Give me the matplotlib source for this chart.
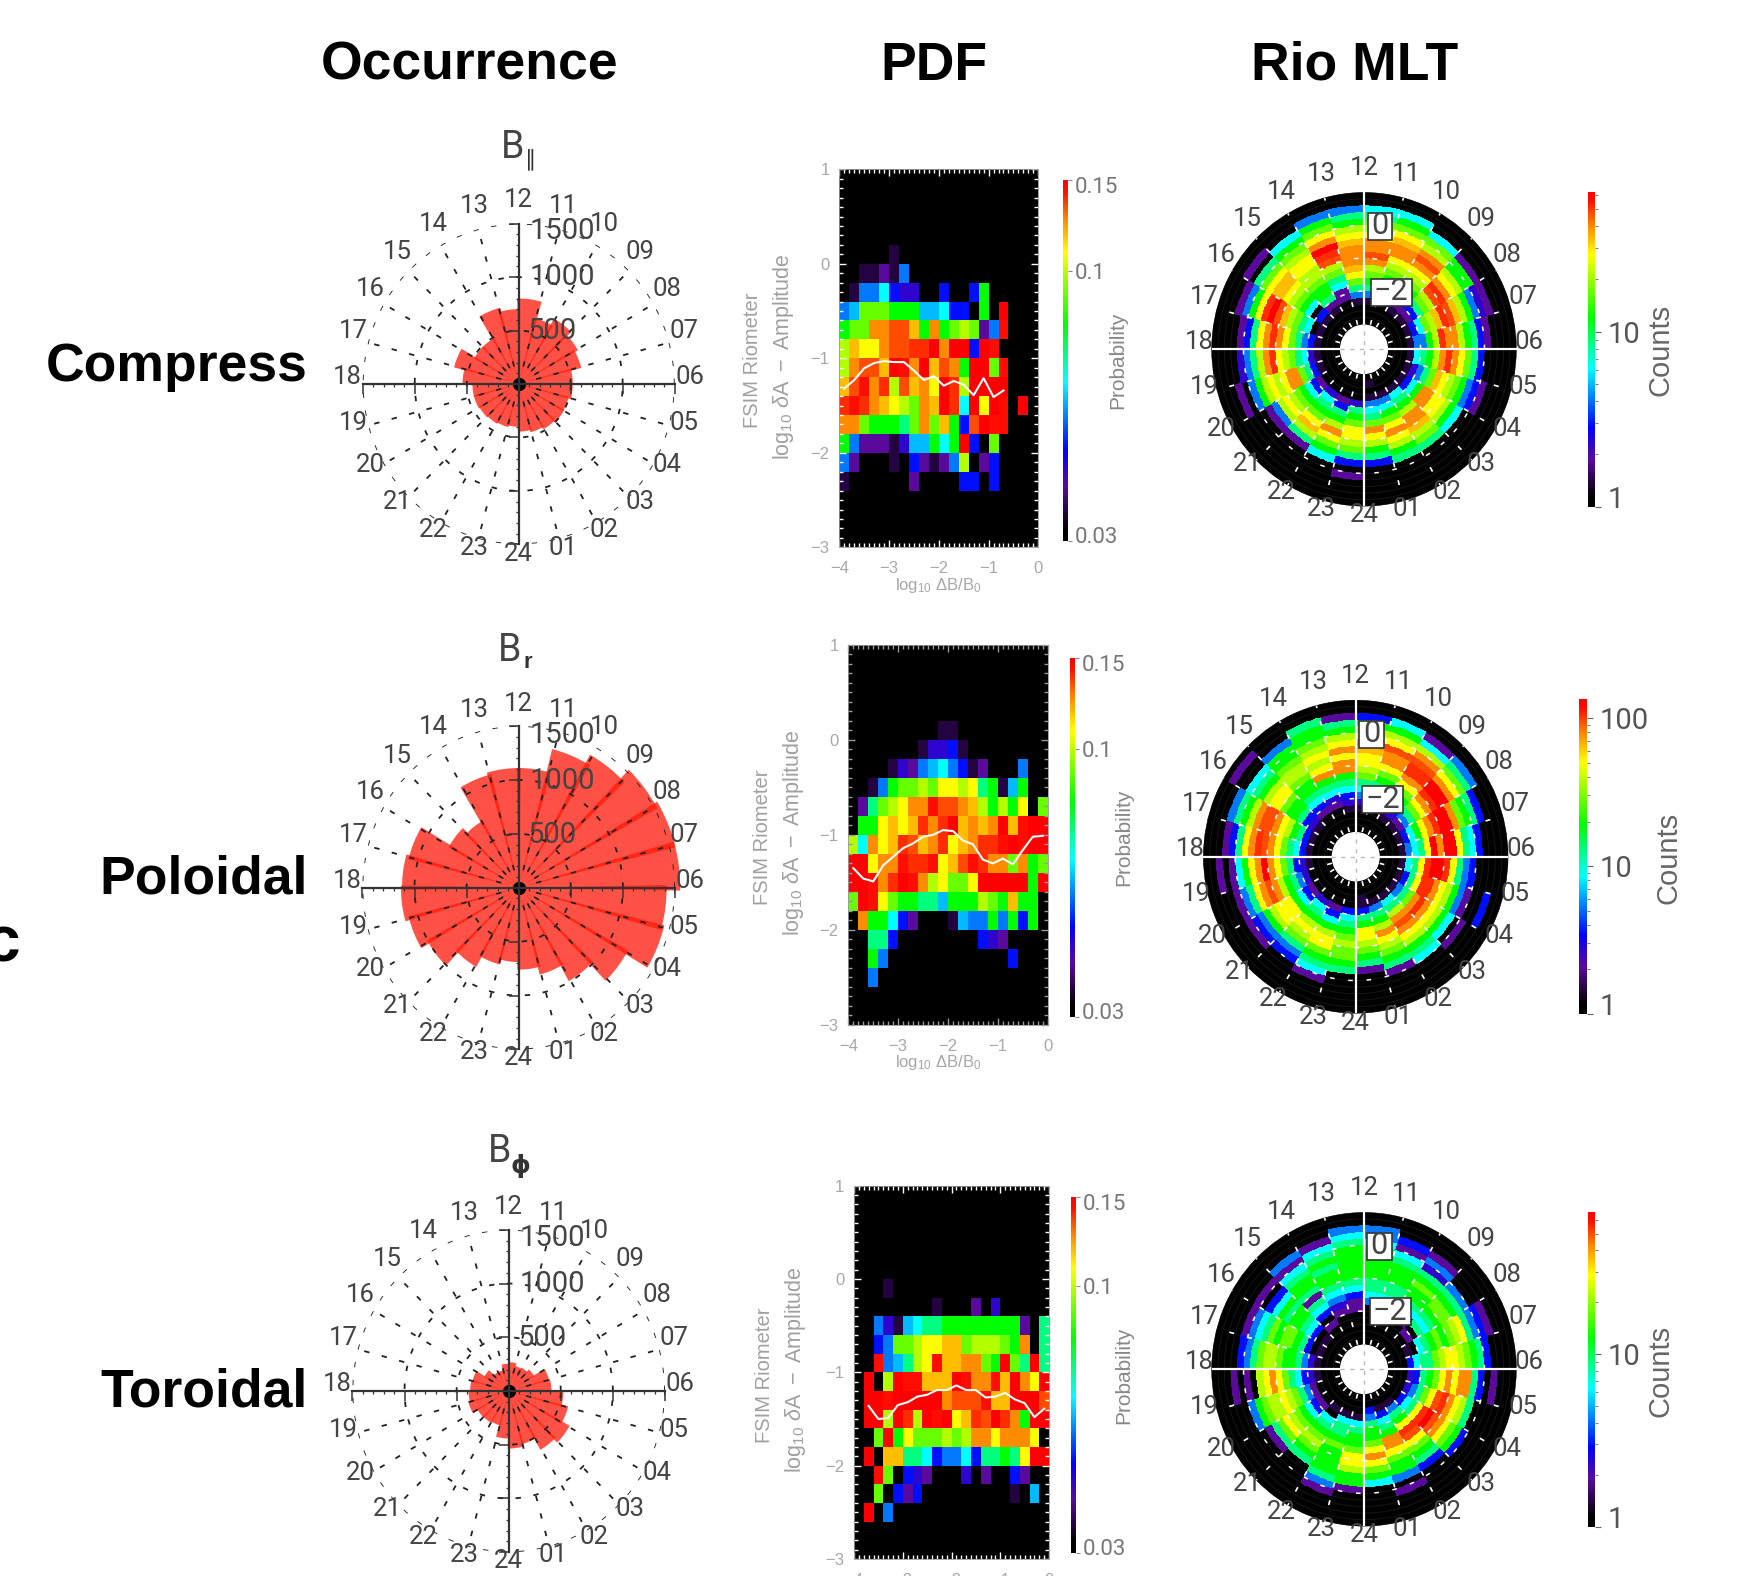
import numpy as np
import matplotlib
matplotlib.use("Agg")
import matplotlib.pyplot as plt
from matplotlib.colors import LinearSegmentedColormap, LogNorm
from matplotlib.patches import Rectangle
from matplotlib.ticker import MultipleLocator, NullFormatter
from matplotlib.transforms import ScaledTranslation

plt.rcParams['font.family'] = ['Liberation Sans', 'DejaVu Sans']
plt.rcParams['mathtext.fontset'] = 'custom'
plt.rcParams['mathtext.rm'] = 'Liberation Sans'
plt.rcParams['mathtext.it'] = 'Liberation Sans:italic'
plt.rcParams['mathtext.bf'] = 'Liberation Sans:bold'

W, H = 1748, 1576
THIN = dict(family=['Roboto', 'Liberation Sans'], fontweight='normal')
INK = '#444444'

HOURS = ['06', '07', '08', '09', '10', '11', '12', '13', '14', '15', '16', '17',
         '18', '19', '20', '21', '22', '23', '24', '01', '02', '03', '04', '05']

# Occurrence per MLT hour sector, starting at 06-07 and running through 12, 18, 24
OCC_COMPRESS = [520, 620, 650, 700, 635, 800, 700, 735, 490, 490, 640, 540,
                445, 445, 435, 425, 415, 400, 445, 465, 485, 500, 495, 520]
OCC_POLOIDAL = [1550, 1550, 1520, 1410, 1325, 1110, 1110, 1085, 710, 770, 1090, 1120,
                1130, 1090, 1005, 840, 735, 690, 760, 830, 990, 1200, 1440, 1420]
OCC_TOROIDAL = [410, 400, 280, 250, 240, 268, 254, 200, 205, 270, 360, 370,
                385, 400, 345, 340, 330, 442, 535, 510, 625, 668, 588, 524]

# Cell readings: each letter is a position on the colour bar (0 = bottom, 1 = top)
LEVEL = {'d': .08, 'p': .15, 'i': .20, 'b': .26, 'a': .34, 's': .39, 'c': .44, 't': .52,
         'g': .60, 'l': .68, 'm': .74, 'y': .80, 'o': .85, 'O': .89, 'f': .93, 'F': .95,
         'r': .975, 'R': 1.0}

BLANK = '.' * 20

# PDF cells, top row (log10 dA 0.8..1) to bottom row, left column (log10 dB/B0 -4) to right
PDF_COMPRESS = [BLANK] * 4 + [
    ".....d..............", "..ddpda.............", ".daacbii..b..bg.....",
    "aslllgggsscbb.g.R...", "gllOOffogOglmlpar...", "moyyOffFFRORRbRr....",
    "mOffoRrORofOgRRlr...", "ofrOFmfoOyRFmRRRR...", "FrFOoymlOoRFcRyRr.R.",
    "OOlgggtlOlogbfRrr...", "gapppdissgcgRb.l....", "ap...d.bpdpam.pb....",
    "d......p....bb.b....",
] + [BLANK] * 3
PDF_POLOIDAL = [BLANK] * 4 + [
    ".........dd.........", ".......diibd........", "....dipascabdp...a..",
    "..dagllmlyymytgdsg..", ".ptlmyOOrffOomgmgy.l", ".ggyoyoFOFRoOoORorRR",
    "mcOyoFfoOFyoOFFrRrRR", "RRyOOrFFryofrFOOlOgl", "RRrOFRrOmyllyRRRRRgR",
    "lRrylggttsgggmlgogg.", ".Oggcbp...dsaagagbg.", "..ttb........bip....",
    "..ga............b...", "..a.................",
] + [BLANK] * 2
PDF_TOROIDAL = [BLANK] * 5 + [
    "...d................", "........d...p.i.....", "..aidscttggggggggp.t",
    "..ballmyyoolmmmlgO.t", "..rastmyrooOOlgRltRt", ".R.mRrroooRrOOroROyR",
    ".RRrRRRRROfffrooRRRf", ".RRmRFmRrRyoFfRFOgRR", "..lRgylllmlmOOyOOOy.",
    ".R.oottcbaacbttgtyRR", "..rl.bip...i.p..bp..", "..l.bpb.........d.s.",
    ".R.a................",
] + [BLANK] * 2

# Median lines
MED_X_COMPRESS = [-3.9, -3.7, -3.5, -3.3, -3.1, -2.9, -2.7, -2.5, -2.3, -2.1, -1.9, -1.7, -1.5, -1.3, -1.1, -0.9, -0.7]
MED_Y_COMPRESS = [-1.32, -1.23, -1.105, -1.05, -1.03, -1.04, -1.04, -1.13, -1.23, -1.19, -1.29, -1.24, -1.28, -1.39, -1.21, -1.41, -1.34]
MED_X_POLOIDAL = [-3.9, -3.7, -3.5, -3.3, -3.1, -2.9, -2.7, -2.5, -2.3, -2.1, -1.9, -1.7, -1.5, -1.3, -1.1, -0.9, -0.7, -0.5, -0.3, -0.1]
MED_Y_POLOIDAL = [-1.35, -1.46, -1.49, -1.32, -1.23, -1.14, -1.09, -1.02, -1.0, -0.95, -0.96, -1.06, -1.10, -1.26, -1.30, -1.25, -1.31, -1.16, -1.02, -1.01]
MED_X_TOROIDAL = [-3.7, -3.5, -3.3, -3.1, -2.9, -2.7, -2.5, -2.3, -2.1, -1.9, -1.7, -1.5, -1.3, -1.1, -0.9, -0.7, -0.5, -0.3, -0.1]
MED_Y_TOROIDAL = [-1.36, -1.50, -1.49, -1.35, -1.32, -1.26, -1.24, -1.19, -1.19, -1.14, -1.19, -1.19, -1.27, -1.26, -1.22, -1.29, -1.33, -1.48, -1.39]

# Rio MLT cells: one string per hour sector (06-07 first), inner ring (-3) to outer ring (+1)
RIO_COMPRESS = [
    "...daagmFOOmgtbp....", "...dbclmoFfomgaip...", "...dpbtlmfFOymggp...", "...dpbcglmyOfOmlc...",
    "....iacglmyOOoylgc..", "...datglmOfOOymltc..", "...datlyoOOOoymgta..", "....ppctlmfFROylga..",
    "...dptgglmmyymlgc...", "...db.cglmyooylt.p..", "...d.ctlmofRFygap...", "...dbatlyOFOytbp....",
    "...dictlmyFOmtai....", "...dbtlOOymymga.p...", "....pbcglmymap......", "....ictglyomtp......",
    "....pbtgmOylgc......", "....itglyymltb.p....", ".d.dactlOymgtb......", "...dacglyOymgt......",
    "...dctgmOOomlt......", "...dbcgOOyymgc......", "...diatloymlgabp....", "...dctgmOFOyltb.....",
]
RIO_POLOIDAL = [
    "...dactyRORRytcb....", "...dbcgyOFRROlgtb...", "...dpatlyOFRROylta..", "...dibcglyOFFfOmcp..",
    "....ibatglyOOfymgc..", "...diactlmyyoOymgb..", "...dibctgOOyOymgtp..", "....pictgOymymlggt..",
    "....pbctgglmmlgga...", "...dibtgglyymgtc..p.", "...dbtgmyOffOmgta...", "...dbctlyOfFOytbp...",
    "...dibtlyOROygcp.p..", "....iatgmOfOytap....", "....pbcgyyymgabp....", "....ictgmymltab.....",
    "....pbcgmyylgtcp....", "....bctglmllgt......", "..ddbtgyymlgtp......", "...datgmOymlgtp.....",
    "...dctmOfOymgtc.....", "...datlOFOymgc.p....", "...dbtyFFOymgap..b..", "...dctyFRRFytab.....",
]
RIO_TOROIDAL = [
    "...bcttlmyymlgtb....", "...d.ctglglmytabp...", "....p.tctgllgta.....", ".....pbctgglgtiap...",
    ".....pbcttgggtcpb...", "......acttggggtcaa..", ".....ppbctgggggtca..", ".....piactggtgtcp...",
    "....p.bctptggtcpa...", "...d.bctggtgcb.p....", "...d.btgllgltcap....", "...diatgglmmltab....",
    "...dibctlyOym.p.p...", "....patlmymmlga.....", "....pbcglmyltp......", "...d.ctglmlgt.......",
    "...dcttglggggtap....", "...dctgglyymggp.....", "..batgglyOylgc......", "..dbctgOOylgga.p....",
    "..datgyFfylgtb......", "...bctyFRfOylgb.....", "...iatlyfFOymt......", "...ibtglyOyOOtb.p...",
]

RIO_VMAX = [63, 134, 67]

COLORS = LinearSegmentedColormap.from_list('rainbow_black', [
    (0.00, '#000000'), (0.03, '#000000'), (0.15, '#5a0a9e'), (0.25, '#0000ff'),
    (0.44, '#00ffff'), (0.60, '#00ff00'), (0.80, '#ffff00'), (0.89, '#ff8c00'),
    (0.97, '#ff1000'), (1.00, '#ff0000')], N=512)

fig = plt.figure(figsize=(W / 100, H / 100), dpi=100, facecolor='white')


def box(x0, y0, x1, y1):
    return [x0 / W, 1 - y1 / H, (x1 - x0) / W, (y1 - y0) / H]


def label(x, y, s, **kw):
    kw.setdefault('ha', 'center')
    kw.setdefault('va', 'center')
    return fig.text(x / W, 1 - y / H, s, **kw)


def to_values(code, vmin, vmax):
    return vmin * (vmax / vmin) ** code


def decode(rows, vmin, vmax):
    assert all(len(r) == 20 for r in rows), [len(r) for r in rows]
    return np.array([[to_values(LEVEL[c], vmin, vmax) if c != '.' else np.nan for c in r]
                     for r in rows])


def nudge(text, px):
    text.set_transform(text.get_transform() + ScaledTranslation(0, px / 100, fig.dpi_scale_trans))


def hour_labels(cx, cy, rx, ry, dy, size):
    for j, h in enumerate(HOURS):
        t = np.deg2rad(j * 15)
        label(cx + rx * np.cos(t), cy - ry * np.sin(t) - dy, h, fontsize=size, color=INK, **THIN)


def rose(cx, cy, rx, ry, values):
    ax = fig.add_axes(box(cx - rx, cy - ry, cx + rx, cy + ry), projection='polar')
    ax.set_aspect('auto')
    ax.axis('off')
    ax.set_rlim(0, 1500)
    theta = np.deg2rad(np.arange(24) * 15 + 7.5)
    ax.bar(theta, values, width=np.deg2rad(17), color='#ff1a0a', alpha=0.76,
           linewidth=0, clip_on=False, zorder=2)
    for j in range(24):
        ax.plot([np.deg2rad(j * 15)] * 2, [0, 1500], color='#222222', lw=1.3,
                dashes=(3, 7), zorder=3)
    ring = np.linspace(0, 2 * np.pi, 361)
    for r in (500, 1000, 1500):
        ax.plot(ring, np.full(361, r), color='#222222', lw=1.3, dashes=(3, 7), zorder=3)

    cart = fig.add_axes(box(cx - rx, cy - ry, cx + rx, cy + ry), facecolor='none')
    cart.set_xlim(-1500, 1500)
    cart.set_ylim(-1500, 1500)
    for side in ('top', 'right'):
        cart.spines[side].set_visible(False)
    for side in ('left', 'bottom'):
        cart.spines[side].set_position('center')
        cart.spines[side].set_color('#333333')
        cart.spines[side].set_linewidth(1.6)
    cart.set_xticks([-1500, -1000, -500, 500, 1000, 1500])
    cart.set_yticks([-1500, -1000, -500, 500, 1000, 1500])
    cart.xaxis.set_minor_locator(MultipleLocator(100))
    cart.yaxis.set_minor_locator(MultipleLocator(100))
    cart.set_xticklabels([])
    cart.set_yticklabels([])
    cart.tick_params(which='major', length=7, width=1.1, color='#333333')
    cart.tick_params(which='minor', length=2.5, width=0.9, color='#333333')
    cart.plot([0], [0], 'o', color='black', ms=8.5, clip_on=False)

    for txt, dx, dy in (('500', 34, 53), ('1000', 44, 107), ('1500', 44, 153)):
        label(cx + dx, cy - dy, txt, fontsize=21, color=INK, **THIN)
    hour_labels(cx, cy, 171, 177, 7, 18.5)
    return ax


def pdf(x0, y0, x1, y1, rows, mx, my, tick_col, cbar, prob_x, prob_y, fsim, logl, xlab):
    ax = fig.add_axes(box(x0, y0, x1, y1), facecolor='black')
    vals = np.ma.masked_invalid(decode(rows, 0.03, 0.15))
    xe = np.linspace(-4, 0, 21)
    ye = np.linspace(1, -3, 21)
    norm = LogNorm(0.03, 0.15)
    m = ax.pcolormesh(xe, ye, vals, cmap=COLORS, norm=norm, rasterized=True)
    ax.plot(mx, my, color='white', lw=1.5)
    ax.set_xlim(-4, 0)
    ax.set_ylim(-3, 1)
    ax.set_xticks([-4, -3, -2, -1, 0])
    ax.set_yticks([-3, -2, -1, 0, 1])
    ax.xaxis.set_minor_locator(MultipleLocator(0.1))
    ax.yaxis.set_minor_locator(MultipleLocator(0.1))
    ax.tick_params(which='major', direction='in', top=True, right=True, length=5, width=1,
                   color=tick_col, labelcolor='#a8a8a8', labelsize=12, pad=7)
    ax.tick_params(axis='x', which='major', pad=10)
    ax.tick_params(which='minor', direction='in', top=True, right=True, length=3, width=1,
                   color=tick_col)
    for s in ax.spines.values():
        s.set_color('#999999')
        s.set_linewidth(0.6)

    cax = fig.add_axes(box(*cbar))
    cb = fig.colorbar(m, cax=cax)
    cb.outline.set_visible(False)
    cax.minorticks_off()
    cax.yaxis.set_minor_formatter(NullFormatter())
    cb.set_ticks([0.03, 0.1, 0.15])
    cb.set_ticklabels(['0.03', '0.1', '0.15'])
    cax.tick_params(axis='y', which='both', length=3, width=0.8, color='#888888',
                    labelcolor='#777777', labelsize=16, pad=2)
    labs = cax.get_yticklabels()
    for t in labs:
        t.set_family(THIN['family'])
        t.set_fontweight(THIN['fontweight'])
    nudge(labs[0], 6)
    nudge(labs[2], -5)

    label(prob_x, prob_y, 'Probability', rotation=90, fontsize=15, color='#888888')
    label(fsim[0], fsim[1], 'FSIM Riometer', rotation=90, fontsize=14.5, color='#a0a0a0')
    label(logl[0], logl[1], r'$\mathrm{log}_{10}\ \delta\mathrm{A}\ -\ \mathrm{Amplitude}$',
          rotation=90, fontsize=15.5, color='#a0a0a0')
    if xlab is not None:
        label(xlab[0], xlab[1], r'$\mathrm{log}_{10}\ \Delta\mathrm{B}/\mathrm{B}_{0}$',
              fontsize=12, color='#a8a8a8')


def tag(x, y, w, h, s):
    fig.add_artist(Rectangle(((x - w / 2) / W, 1 - (y + h / 2) / H), w / W, h / H,
                             transform=fig.transFigure, fc='white', ec='#333333', lw=1.2, zorder=10))
    label(x, y, s, fontsize=22, color=INK, zorder=11, **THIN)


def rio(cx, cy, rx, ry, sectors, vmax, cbar, ticks, counts_xy, box0, box2):
    ax = fig.add_axes(box(cx - rx, cy - ry, cx + rx, cy + ry), projection='polar',
                      facecolor='black')
    ax.set_aspect('auto')
    ax.grid(False)
    ax.set_xticks([])
    ax.set_yticks([])
    ax.spines['polar'].set_visible(False)
    ax.spines['inner'].set_visible(False)
    ax.set_rlim(-3, 1)
    ax.set_rorigin(-3.77)
    vals = decode(sectors, 1, vmax)
    fine = np.repeat(vals, 8, axis=0)
    th = np.deg2rad(np.linspace(0, 360, 24 * 8 + 1))
    rr = np.linspace(-3, 1, 21)
    norm = LogNorm(1, vmax)
    m = ax.pcolormesh(th, rr, np.ma.masked_invalid(fine.T), cmap=COLORS, norm=norm,
                      shading='flat', antialiased=False, zorder=2, rasterized=True)
    ring = np.linspace(0, 2 * np.pi, 361)
    for r in rr:
        ax.plot(ring, np.full(361, r), color='#191919', lw=0.6, zorder=1)
    for j in range(24):
        ax.plot([np.deg2rad(j * 15)] * 2, [-3, 1], color='white', lw=1.2, dashes=(3, 8), zorder=3)
    for r in (-2, -1, 0):
        ax.plot(ring, np.full(361, r), color='white', lw=1.1, dashes=(3, 9), zorder=3)

    cart = fig.add_axes(box(cx - rx, cy - ry, cx + rx, cy + ry), facecolor='none')
    cart.axis('off')
    cart.set_xlim(-1, 1)
    cart.set_ylim(-1, 1)
    cart.axhline(0, color='white', lw=1.6)
    cart.axvline(0, color='white', lw=1.6)
    cart.plot([-0.16, 0.16], [0, 0], color='#bbbbbb', lw=1, dashes=(3, 4))
    cart.plot([0, 0], [-0.16, 0.16], color='#bbbbbb', lw=1, dashes=(3, 4))

    cax = fig.add_axes(box(*cbar))
    cb = fig.colorbar(m, cax=cax)
    cb.outline.set_visible(False)
    cax.yaxis.set_minor_formatter(NullFormatter())
    cb.set_ticks(ticks)
    cb.set_ticklabels([str(t) for t in ticks])
    cax.tick_params(axis='y', which='major', length=4, width=0.8, color='#666666',
                    labelcolor='#555555', labelsize=21, pad=5)
    cax.tick_params(axis='y', which='minor', length=2, width=0.6, color='#666666')
    labs = cax.get_yticklabels()
    for t in labs:
        t.set_family(THIN['family'])
        t.set_fontweight(THIN['fontweight'])
    nudge(labs[0], 10)

    label(counts_xy[0], counts_xy[1], 'Counts', rotation=90, fontsize=21, color='#666666')
    hour_labels(cx, cy, 165, 173.5, 7.5, 18.5)
    tag(box0[0], box0[1], 24.5, 27, '0')
    tag(box2[0], box2[1], 41, 27, '\u22122')


# Column and row headings
HEAD = dict(fontsize=38.5, fontweight='bold', color='black')
label(470, 65.5, 'Occurrence', **HEAD)
label(934, 65.5, 'PDF', **HEAD)
label(1355, 65.5, 'Rio MLT', **HEAD)
label(307.5, 366.5, 'Compress', ha='right', **HEAD)
label(307.5, 879.5, 'Poloidal', ha='right', **HEAD)
label(307.5, 1392.5, 'Toroidal', ha='right', **HEAD)
label(20, 944, 'c', ha='right', fontsize=46, fontweight='bold', color='black')

# Occurrence column
rose(518.7, 384, 156, 160.3, OCC_COMPRESS)
rose(518.7, 887.7, 156.3, 161.7, OCC_POLOIDAL)
rose(508.7, 1391, 156.3, 161.2, OCC_TOROIDAL)
label(513, 148, 'B', fontsize=27, color=INK, **THIN)
label(531, 159, '\u2225', fontsize=16, color='#333333', family=['DejaVu Sans'])
label(510, 650, 'B', fontsize=27, color=INK, **THIN)
label(528, 662, 'r', fontsize=16, fontweight='bold', color='#333333')
label(500, 1151, 'B', fontsize=27, color=INK, **THIN)
label(520, 1166, '\u03d5', fontsize=18, fontweight='bold', color='#333333', family=['DejaVu Sans'])

# PDF column
pdf(839.3, 169.3, 1038.3, 547.3, PDF_COMPRESS, MED_X_COMPRESS, MED_Y_COMPRESS, 'white',
    (1063.3, 180, 1068.3, 540.7), 1118, 360, (752, 360), (784, 357), (938, 586))
pdf(848.3, 644.7, 1047.7, 1025, PDF_POLOIDAL, MED_X_POLOIDAL, MED_Y_POLOIDAL, '#999999',
    (1070, 658.3, 1075, 1016.7), 1124, 837, (762, 837), (794, 833), (938, 1062))
pdf(854, 1185.7, 1049, 1559, PDF_TOROIDAL, MED_X_TOROIDAL, MED_Y_TOROIDAL, 'white',
    (1070.7, 1196.7, 1075.7, 1552.7), 1124, 1375, (765, 1375), (796, 1370), None)

# Rio MLT column
rio(1364, 349.3, 152.5, 157, RIO_COMPRESS, RIO_VMAX[0], (1587.7, 191.7, 1595, 506.7),
    [1, 10], (1660, 350), (1380, 226), (1391, 292))
rio(1355.7, 856.7, 152.5, 156.7, RIO_POLOIDAL, RIO_VMAX[1], (1579, 699.3, 1586.7, 1014),
    [1, 10, 100], (1669, 858), (1371.7, 734), (1382.7, 799.3))
rio(1364, 1369.3, 152.5, 157, RIO_TOROIDAL, RIO_VMAX[2], (1587.7, 1211.7, 1595, 1526.7),
    [1, 10], (1660, 1371), (1379.3, 1246), (1390, 1311))

fig.savefig('out.png', dpi=100, facecolor='white')
